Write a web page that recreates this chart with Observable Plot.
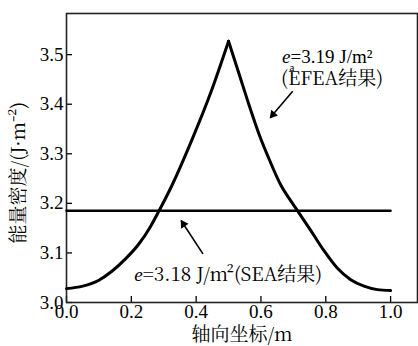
<!DOCTYPE html>
<html><head><meta charset="utf-8">
<script src="https://cdn.jsdelivr.net/npm/d3@7"></script>
<script src="https://cdn.jsdelivr.net/npm/@observablehq/plot@0.6"></script>
<style>
body{margin:0;background:#fff;}
</style></head>
<body><div id="chart"></div>
<script>
// EFEA curve (axial coordinate m, energy density J/m^2): left and right branches
const efeaX = [0, 0.05, 0.1, 0.14, 0.182, 0.222, 0.258, 0.284, 0.323, 0.385, 0.446, 0.5,
               0.5, 0.533, 0.564, 0.595, 0.626, 0.662, 0.69, 0.713, 0.754, 0.795, 0.836, 0.877, 0.918, 0.959, 1.0];
const efeaY = [3.028, 3.033, 3.045, 3.063, 3.088, 3.117, 3.152, 3.183, 3.233, 3.325, 3.425, 3.527,
               3.527, 3.46, 3.397, 3.338, 3.288, 3.236, 3.207, 3.185, 3.145, 3.104, 3.069, 3.046, 3.033, 3.026, 3.024];
const efeaSeg = ["L","L","L","L","L","L","L","L","L","L","L","L",
                 "R","R","R","R","R","R","R","R","R","R","R","R","R","R","R"];
// SEA result (constant)
const seaX = [0, 1.0];
const seaValue = 3.185;
const xTicks = [0.0, 0.2, 0.4, 0.6, 0.8, 1.0];
const yTicks = [3.0, 3.1, 3.2, 3.3, 3.4, 3.5];
const xLabel = "轴向坐标/m";
const yLabel = "能量密度/(J·m⁻²)";

const efea = efeaX.map((x, i) => ({x, y: efeaY[i], seg: efeaSeg[i]}));
const sea = seaX.map(x => ({x, y: seaValue}));

// annotation anchors (data coordinates)
const arrowUp = {x1: 0.698, y1: 3.426, x2: 0.629, y2: 3.373};
const arrowLo = {x1: 0.421, y1: 3.098, x2: 0.354, y2: 3.165};

const fs = 19;
const L = {fontSize: fs, fill: "#000", fontFamily: "Liberation Serif"};
const C = {fontSize: fs, fill: "#000", fontFamily: "Noto Serif CJK SC"};
const plot = Plot.plot({
  width: 418, height: 346,
  marginLeft: 66, marginTop: 13, marginBottom: 44, marginRight: 1,
  style: {fontSize: fs + "px", color: "#000", background: "#fff", fontFamily: "Liberation Serif"},
  x: {domain: [0, 1.083]},
  y: {domain: [3.0, 3.583]},
  marks: [
    Plot.axisX(xTicks, {tickSize: -6, tickPadding: 8, tickFormat: d3.format(".1f"), label: null, strokeWidth: 1.3, ...L}),
    Plot.axisY(yTicks, {tickSize: -6, tickPadding: 9, tickFormat: d3.format(".1f"), label: null, strokeWidth: 1.3, ...L}),
    Plot.frame({stroke: "#222", strokeWidth: 1.6}),
    Plot.line(sea, {x: "x", y: "y", stroke: "#000", strokeWidth: 2.4}),
    Plot.line(efea, {x: "x", y: "y", z: "seg", curve: "monotone-x", stroke: "#000", strokeWidth: 3}),
    // arrows: shaft + filled head
    Plot.link([arrowUp, arrowLo], {x1: "x1", y1: "y1", x2: "x2", y2: "y2", stroke: "#000", strokeWidth: 1.6}),
    Plot.dot([arrowUp], {x: "x2", y: "y2", symbol: "triangle2", r: 4.2, rotate: 220, dx: 2.6, dy: -3.1, fill: "#000", stroke: "none"}),
    Plot.dot([arrowLo], {x: "x2", y: "y2", symbol: "triangle2", r: 4.2, rotate: -33, dx: 2.2, dy: 3.4, fill: "#000", stroke: "none"}),
    // upper annotation
    Plot.text(["e"], {x: 0.665, y: 3.484, textAnchor: "start", lineAnchor: "bottom", fontStyle: "italic", ...L}),
    Plot.text(["a"], {x: 0.665, y: 3.484, dx: 7.5, dy: 8, textAnchor: "start", lineAnchor: "bottom", ...L, fontSize: 11}),
    Plot.text(["=3.19 J/m²"], {x: 0.665, y: 3.484, dx: 8.5, textAnchor: "start", lineAnchor: "bottom", ...L}),
    Plot.text(["(EFEA结果)"], {x: 0.662, y: 3.438, textAnchor: "start", lineAnchor: "bottom", ...C}),
    // lower annotation
    Plot.text(["e"], {x: 0.209, y: 3.044, textAnchor: "start", lineAnchor: "bottom", fontStyle: "italic", ...L}),
    Plot.text(["=3.18 J/m²(SEA结果)"], {x: 0.209, y: 3.044, dx: 8.5, textAnchor: "start", lineAnchor: "bottom", ...C}),
    // axis titles
    Plot.text([xLabel], {frameAnchor: "bottom", dy: 38, lineAnchor: "bottom", ...C}),
    Plot.text([yLabel], {x: 0, y: 3.262, dx: -48, rotate: -90, ...C})
  ]
});
document.getElementById("chart").appendChild(plot);
</script></body></html>
